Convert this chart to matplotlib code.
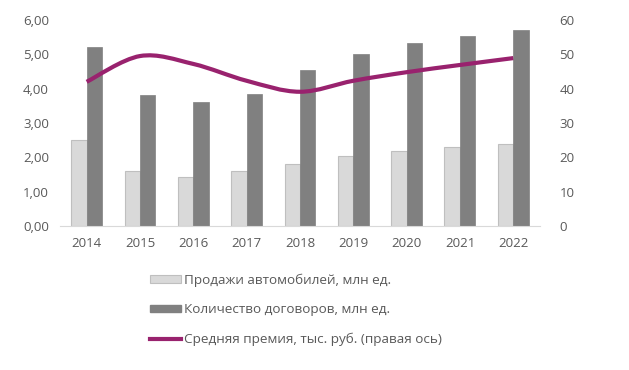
import numpy as np
import matplotlib
matplotlib.use('Agg')
import matplotlib.pyplot as plt
from matplotlib.path import Path
from matplotlib.patches import PathPatch, Patch
from matplotlib.lines import Line2D

years = ['2014', '2015', '2016', '2017', '2018', '2019', '2020', '2021', '2022']
carSales = [2.50, 1.59, 1.42, 1.59, 1.80, 2.04, 2.18, 2.30, 2.38]
contracts = [5.21, 3.82, 3.61, 3.84, 4.54, 5.01, 5.33, 5.53, 5.71]
avgPremium = [42.0, 49.5, 47.2, 42.3, 39.1, 42.3, 44.8, 46.9, 48.9]

labelSales = 'Продажи автомобилей, млн ед.'
labelContracts = 'Количество договоров, млн ед.'
labelPremium = 'Средняя премия, тыс. руб. (правая ось)'

plt.rcParams['font.family'] = ['Open Sans', 'DejaVu Sans']
textColor = '#595959'
lineColor = '#99226E'


def smoothPath(xs, ys):
    # excel-like smoothed line: cubic bezier through the points
    pts = np.column_stack([xs, ys]).astype(float)
    n = len(pts)
    verts = [pts[0]]
    codes = [Path.MOVETO]
    for i in range(n - 1):
        p0 = pts[max(i - 1, 0)]
        p1 = pts[i]
        p2 = pts[i + 1]
        p3 = pts[min(i + 2, n - 1)]
        c1 = p1 + (p2 - p0) / 6.0
        c2 = p2 - (p3 - p1) / 6.0
        verts += [c1, c2, p2]
        codes += [Path.CURVE4] * 3
    return Path(verts, codes)


fig = plt.figure(figsize=(6.29, 3.70), dpi=100)
ax = fig.add_axes([0.0954, 0.389, 0.763, 0.557])
ax2 = ax.twinx()

x = np.arange(len(years))
barWidth = 0.29
ax.bar(x - barWidth / 2, carSales, barWidth, color='#d9d9d9', edgecolor='#bfbfbf', linewidth=0.8, zorder=2)
ax.bar(x + barWidth / 2, contracts, barWidth, color='#808080', edgecolor='#808080', linewidth=0.5, zorder=2)

ax.set_ylim(0, 6)
ax.set_yticks(np.arange(0, 6.01, 1))
ax.set_yticklabels([('%.2f' % v).replace('.', ',') for v in np.arange(0, 6.01, 1)])
ax.set_xlim(-0.5, len(years) - 0.5)
ax.set_xticks(x)
ax.set_xticklabels(years)

ax2.set_ylim(0, 60)
ax2.set_yticks(np.arange(0, 61, 10))
ax2.add_patch(PathPatch(smoothPath(x, avgPremium), facecolor='none', edgecolor=lineColor,
                        linewidth=3.0, capstyle='butt', zorder=3))

for a in (ax, ax2):
    for side in ('top', 'left', 'right', 'bottom'):
        a.spines[side].set_visible(False)
    a.tick_params(length=0, labelsize=9.5, labelcolor=textColor)
ax.spines['bottom'].set_visible(True)
ax.spines['bottom'].set_color('#d9d9d9')
ax.tick_params(axis='y', pad=8)
ax.tick_params(axis='x', pad=8)
ax2.tick_params(axis='y', pad=14)

handles = [
    Patch(facecolor='#d9d9d9', edgecolor='#bfbfbf', linewidth=0.8),
    Patch(facecolor='#808080', edgecolor='#808080'),
    Line2D([], [], color=lineColor, linewidth=3.0),
]
fig.legend(handles, [labelSales, labelContracts, labelPremium], loc='upper left',
           bbox_to_anchor=(0.2385, 0.261), frameon=False, fontsize=9.7, labelcolor=textColor,
           handlelength=2.3, handleheight=0.5, handletextpad=0.2, labelspacing=1.22,
           borderaxespad=0, borderpad=0)

fig.savefig('out.png', dpi=100)
